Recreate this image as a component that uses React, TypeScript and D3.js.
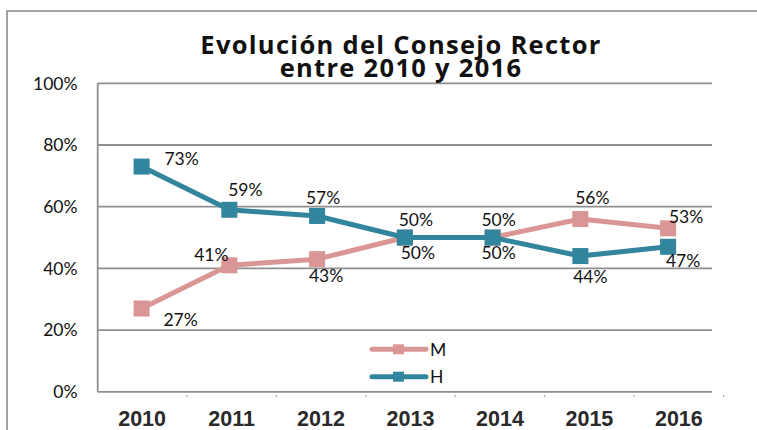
import React from "react";
import * as d3 from "d3";

const years = ["2010", "2011", "2012", "2013", "2014", "2015", "2016"];
const mValues = [27, 41, 43, 50, 50, 56, 53];
const hValues = [73, 59, 57, 50, 50, 44, 47];
const yTicks = [0, 20, 40, 60, 80, 100];
const seriesNames = ["M", "H"];
const titleLines = ["Evolución del Consejo Rector", "entre 2010 y 2016"];

// label offsets (dx, dy) relative to the marker centre
const mLabelOffset: [number, number][] = [
  [39, 11], [-18, -11], [9, 17], [13, 15], [6, 15], [12, -21], [18, -12],
];
const hLabelOffset: [number, number][] = [
  [40, -8], [16, -20], [6, -18], [11, -18], [6, -18], [10, 21], [15, 14],
];

const W = 757;
const H = 430;
const plotLeft = 97.7;
const plotRight = 712;
const plotTop = 83.3;
const plotBottom = 391.8;

const M_COLOR = "#D99694";
const H_COLOR = "#31859C";
const GRID = "#8f8f8f";
const FONT = "Lato, 'Open Sans', sans-serif";

export default function App() {
  const y = d3.scaleLinear().domain([0, 100]).range([plotBottom, plotTop]);
  const xPts = d3.scaleBand<string>().domain(years).range([plotLeft, plotRight]);
  const xAxis = d3.scaleBand<string>().domain(years).range([97.4, 723.6]);
  const cx = (yr: string) => (xPts(yr) as number) + xPts.bandwidth() / 2;

  const line = d3
    .line<number>()
    .x((_, i) => cx(years[i]))
    .y((v) => y(v));

  const series = [
    { name: seriesNames[0], values: mValues, color: M_COLOR, offs: mLabelOffset },
    { name: seriesNames[1], values: hValues, color: H_COLOR, offs: hLabelOffset },
  ];

  const mk = 16;

  return (
    <svg
      width={W}
      height={H}
      style={{ position: "absolute", left: 0, top: 0, background: "#fff" }}
      fontFamily={FONT}
    >
      <rect x={0} y={0} width={W} height={H} fill="#fff" />
      {/* outer frame */}
      <path d={`M7,${H + 2} V11 H${W + 2}`} fill="none" stroke="#8a8a8a" strokeWidth={1.6} />

      {/* gridlines */}
      {yTicks.map((t) => (
        <line
          key={t}
          x1={plotLeft}
          x2={plotRight}
          y1={y(t)}
          y2={y(t)}
          stroke={GRID}
          strokeWidth={1.8}
        />
      ))}
      <line x1={plotLeft} x2={plotLeft} y1={plotTop} y2={plotBottom} stroke={GRID} strokeWidth={1.8} />

      {/* y labels */}
      {yTicks.map((t) => (
        <text
          key={t}
          x={77.5}
          y={y(t)}
          dy="0.36em"
          textAnchor="end"
          fontSize={17.5}
          fill="#111"
        >
          {t}%
        </text>
      ))}

      {/* x ticks and labels */}
      {years.map((yr) => (
        <g key={yr}>
          <line
            x1={(xAxis(yr) as number) + xAxis.bandwidth()}
            x2={(xAxis(yr) as number) + xAxis.bandwidth()}
            y1={395}
            y2={397}
            stroke="#aaa"
            strokeWidth={1.2}
          />
          <text
            x={(xAxis(yr) as number) + xAxis.bandwidth() / 2}
            y={425.5}
            textAnchor="middle"
            fontSize={21.5}
            fontWeight="bold"
            fontFamily="'Liberation Sans Narrow', 'Arial Narrow', sans-serif"
            fill="#2a2a2a"
          >
            {yr}
          </text>
        </g>
      ))}

      {/* title */}
      {titleLines.map((tl, i) => (
        <text
          key={i}
          x={401}
          y={53.5 + i * 23.8}
          textAnchor="middle"
          fontSize={25.5}
          fontWeight="bold"
          letterSpacing={1.3}
          fontFamily="'Open Sans', Lato, sans-serif"
          fill="#111"
        >
          {tl}
        </text>
      ))}

      {/* series lines and markers */}
      {series.map((s) => (
        <g key={s.name}>
          <path
            d={line(s.values) as string}
            fill="none"
            stroke={s.color}
            strokeWidth={5}
            strokeLinejoin="round"
          />
          {s.values.map((v, i) => (
            <rect
              key={i}
              x={cx(years[i]) - mk / 2}
              y={y(v) - mk / 2}
              width={mk}
              height={mk}
              fill={s.color}
            />
          ))}
        </g>
      ))}

      {/* data labels */}
      {series.map((s) =>
        s.values.map((v, i) => (
          <text
            key={s.name + i}
            x={cx(years[i]) + s.offs[i][0]}
            y={y(v) + s.offs[i][1]}
            dy="0.36em"
            textAnchor="middle"
            fontSize={17.5}
            fill="#111"
          >
            {v}%
          </text>
        ))
      )}

      {/* legend */}
      {series.map((s, i) => (
        <g key={s.name} transform={`translate(0, ${349.3 + i * 27.4})`}>
          <line x1={372} x2={426} y1={0} y2={0} stroke={s.color} strokeWidth={5} strokeLinecap="round" />
          <rect x={398.5 - 5.5} y={-5} width={11} height={10} fill={s.color} />
          <text x={430} y={0} dy="0.36em" fontSize={17.5} fill="#111">
            {s.name}
          </text>
        </g>
      ))}
    </svg>
  );
}
